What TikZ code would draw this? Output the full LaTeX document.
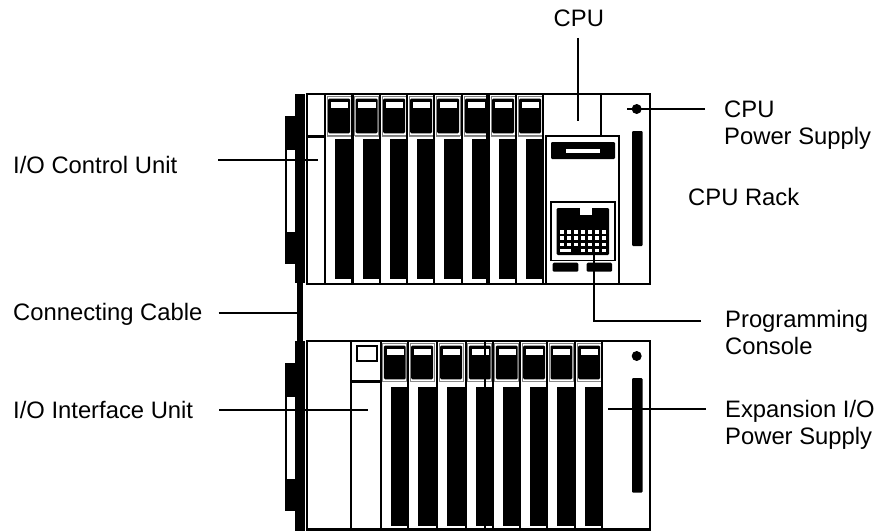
\documentclass[tikz,border=0pt]{standalone}
\usepackage{fontspec}
\setmainfont{Liberation Sans}
\tikzset{
  rackline/.style={line width=2.2pt,black},
  thinrule/.style={line width=0.7pt,black!45},
  solid black/.style={fill=black,draw=none},
  keycap/.style={fill=black,draw=none,rounded corners=1.2pt},
  whitewin/.style={fill=white,draw=none},
  leader/.style={line width=1.7pt,black},
  lbl/.style={font=\fontsize{23.8}{26.7}\selectfont,inner sep=0pt,align=left,text=black},
}
\newcommand{\keybox}[3]{% x of divider, top y, bottom y
  \draw[line width=0.6pt,black!50] (#1+2,#2-0.5) rectangle (#1+26,#3+0.5);
  \fill[keycap] (#1+3.2,#2+2) rectangle (#1+25,#3-1.2);
  \fill[whitewin] (#1+5.8,#2+5) rectangle (#1+23,#2+11);
}
\begin{document}
\begin{tikzpicture}[x=1pt,y=-1pt]
\useasboundingbox (0,0) rectangle (883,531);

% ---- left rail, brackets and cable
\fill[solid black] (295,94) rectangle (305,283);
\fill[solid black] (296.5,283) rectangle (303.3,341);
\fill[solid black] (295,341) rectangle (305,531);
\fill[solid black] (285,116) rectangle (295,150);
\fill[solid black] (285,232) rectangle (295,264);
\draw[line width=1.6pt] (286,150) -- (286,232);
\fill[solid black] (285,363) rectangle (295,397);
\fill[solid black] (285,479) rectangle (295,511);
\draw[line width=1.6pt] (286,397) -- (286,479);

% ---- CPU rack
\draw[rackline] (307,94) rectangle (650,284);
\draw[line width=3pt] (307,136) -- (325,136);
\foreach \d in {325,352.5,380,407,434,462,489,516}{
  \keybox{\d}{96.5}{134.5}
  \fill[solid black] (\d+10,138.5) rectangle (\d+27.5,279);
  \draw[thinrule] (\d+2,136.5) -- (\d+26,136.5);
}
\foreach \d in {325,352.5,380,407,434,462,489,516,543}{
  \draw[rackline] (\d,94) -- (\d,284);
}
\draw[line width=1.3pt] (487,94) -- (487,284);
\draw[rackline] (601,94) -- (601,136);
% console
\draw[rackline] (546,284) -- (546,136) -- (619,136) -- (619,284);
\fill[keycap] (551,142) rectangle (615,159);
\fill[whitewin] (566,148.7) rectangle (600,153.3);
\draw[line width=1.7pt] (551,202) rectangle (615,260.5);
\fill[keycap] (556.7,208) rectangle (609,255);
\fill[whitewin] (580,207) rectangle (592,215);
\foreach \kx in {560,567,574,581,588,595,602}{
  \foreach \ky in {230,236.3,242.6}{
    \fill[whitewin] (\kx,\ky) rectangle (\kx+4,\ky+3.5);
  }
}
\foreach \kx in {560,567,581,588,595,602}{
  \fill[whitewin] (\kx,248.9) rectangle (\kx+4,252.4);
}
\fill[whitewin] (564,248.9) rectangle (568,252.4);
\fill[keycap] (552.7,262.7) rectangle (578.3,271.7);
\fill[keycap] (586.7,262.7) rectangle (612,271.7);
\fill[black] (636.7,109) circle (5);
\fill[keycap] (632,131) rectangle (642.7,246);

% ---- Expansion rack
\draw[rackline] (307,341) rectangle (650,529.5);
\draw[line width=3pt] (351,381.7) -- (380.7,381.7);
\draw[line width=1.7pt] (357.3,346) rectangle (377.3,360.7);
\foreach \d in {380.7,408,437,465.7,492.7,520,547.3,575}{
  \keybox{\d}{343.5}{380.5}
  \fill[solid black] (\d+10,386.7) rectangle (\d+28,526);
  \draw[thinrule] (\d+2,381.5) -- (\d+26,381.5);
}
\foreach \d in {351,380.7,408,437,465.7,492.7,520,547.3,575,602.3}{
  \draw[rackline] (\d,341) -- (\d,529.5);
}
\draw[line width=2pt] (485,341) -- (485,529.5);
\fill[black] (636.7,356) circle (5);
\fill[keycap] (632,378) rectangle (642.7,492.7);

% ---- labels
\node[lbl,anchor=base west] (lcpu) at (553.5,26.5) {CPU};
\node[lbl,anchor=base west] (lctrl) at (13,173) {I/O Control Unit};
\node[lbl,anchor=base west] (lcable) at (13,320.7) {Connecting Cable};
\node[lbl,anchor=base west] (liface) at (13,418.7) {I/O Interface Unit};
\node[lbl,anchor=base west] (lrack) at (688,205) {CPU Rack};
\node[lbl,anchor=base west] (lpow) at (724,144) {CPU\\Power Supply};
\node[lbl,anchor=base west] (lprog) at (725,354) {Programming\\Console};
\node[lbl,anchor=base west] (lexp) at (725,444) {Expansion I/O\\Power Supply};

% ---- leaders
\coordinate (tcpu) at (578,121);
\coordinate (tctrl) at (317.7,160);
\coordinate (tcable) at (297,312.7);
\coordinate (tiface) at (367.7,410);
\coordinate (tpow) at (627,109);
\coordinate (tpc) at (594,255);
\coordinate (tpcc) at (594,321);
\coordinate (texp) at (607.7,408.7);
\draw[leader,shorten <=11pt] (tcpu |- lcpu.south) -- (tcpu);
\draw[leader,shorten <=41pt] (lctrl.east |- tctrl) -- (tctrl);
\draw[leader,shorten <=16pt] (lcable.east |- tcable) -- (tcable);
\draw[leader,shorten <=26pt] (liface.east |- tiface) -- (tiface);
\draw[leader,shorten <=19pt] (lpow.west |- tpow) -- (tpow);
\draw[leader,shorten <=24pt] (lprog.west |- tpcc) -- (tpcc) -- (tpc);
\draw[leader,shorten <=19pt] (lexp.west |- texp) -- (texp);
\end{tikzpicture}
\end{document}
